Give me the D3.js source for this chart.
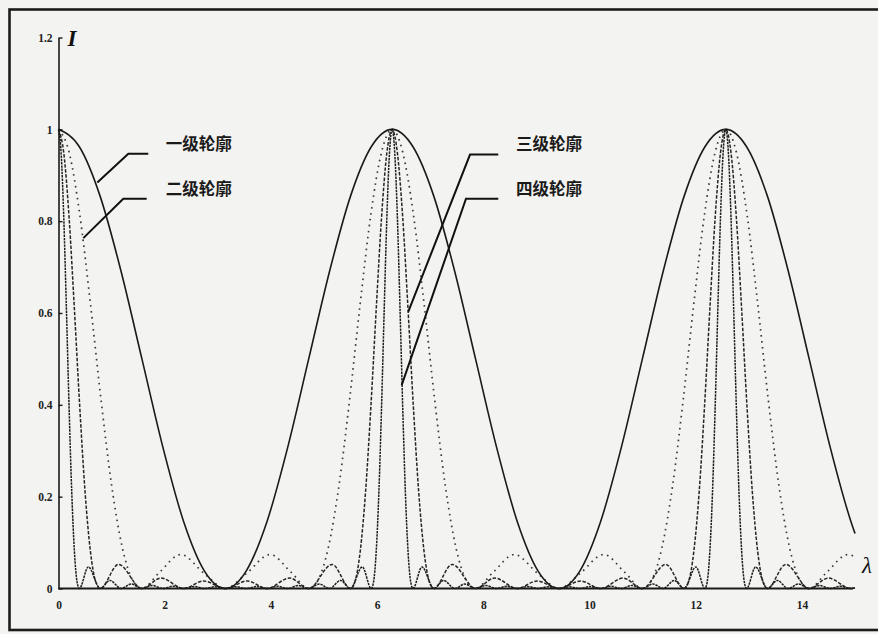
<!DOCTYPE html>
<html>
<head>
<meta charset="utf-8">
<script src="https://cdn.jsdelivr.net/npm/d3@7"></script>
<style>
  html, body { margin: 0; padding: 0; background: #f3f3f1; }
  svg { display: block; }
</style>
</head>
<body>
<svg id="chart" width="878" height="634"></svg>
<script>
// ---- axis ticks ----
const xTickValues = [0, 2, 4, 6, 8, 10, 12, 14];
const yTickValues = [0, 0.2, 0.4, 0.6, 0.8, 1, 1.2];
const yTickLabels = ["0", "0.2", "0.4", "0.6", "0.8", "1", "1.2"];

// ---- profile names ----
const profileNames = ["一级轮廓", "二级轮廓", "三级轮廓", "四级轮廓"];

// ---- intensity profiles, [λ, I] ----
// first-order profile (widest, solid)
const order1 = [
  [0,1],[0.393,0.962],[0.785,0.854],[1.178,0.691],[1.571,0.5],[1.963,0.309],[2.356,0.146],[2.749,0.038],
  [3.142,0],[3.534,0.038],[3.927,0.146],[4.320,0.309],[4.712,0.5],[5.105,0.691],[5.498,0.854],[5.890,0.962],
  [6.283,1],[6.676,0.962],[7.069,0.854],[7.461,0.691],[7.854,0.5],[8.247,0.309],[8.639,0.146],[9.032,0.038],
  [9.425,0],[9.817,0.038],[10.210,0.146],[10.603,0.309],[10.996,0.5],[11.388,0.691],[11.781,0.854],[12.174,0.962],
  [12.566,1],[12.959,0.962],[13.352,0.854],[13.744,0.691],[14.137,0.5],[14.530,0.309],[14.923,0.146],[15,0.12]
];

// second-order profile (sparse dots)
const order2 = [
  [0,1],[0.2,0.950],[0.4,0.815],[0.6,0.622],[0.8,0.412],[1.0,0.225],[1.2,0.090],[1.4,0.017],[1.571,0],
  [1.9,0.035],[2.3,0.074],[2.75,0.032],[3.142,0],[3.533,0.032],[3.983,0.074],[4.383,0.035],[4.712,0],
  [4.883,0.017],[5.083,0.090],[5.283,0.225],[5.483,0.412],[5.683,0.622],[5.883,0.815],[6.083,0.950],[6.283,1],
  [6.483,0.950],[6.683,0.815],[6.883,0.622],[7.083,0.412],[7.283,0.225],[7.483,0.090],[7.683,0.017],[7.854,0],
  [8.183,0.035],[8.583,0.074],[9.033,0.032],[9.425,0],[9.816,0.032],[10.266,0.074],[10.666,0.035],[10.996,0],
  [11.166,0.017],[11.366,0.090],[11.566,0.225],[11.766,0.412],[11.966,0.622],[12.166,0.815],[12.366,0.950],[12.566,1],
  [12.766,0.950],[12.966,0.815],[13.166,0.622],[13.366,0.412],[13.566,0.225],[13.766,0.090],[13.966,0.017],[14.137,0],
  [14.466,0.035],[14.866,0.074],[15,0.069]
];

// third-order profile (dashed)
const order3 = [
  [0,1],[0.1,0.948],[0.2,0.807],[0.3,0.607],[0.4,0.396],[0.5,0.211],[0.6,0.082],[0.7,0.015],[0.785,0],
  [1.13,0.0525],[1.571,0],[1.93,0.0227],[2.356,0],[2.73,0.0163],[3.142,0],[3.553,0.0163],[3.927,0],
  [4.353,0.0227],[4.712,0],[5.153,0.0525],[5.498,0],
  [5.583,0.015],[5.683,0.082],[5.783,0.211],[5.883,0.396],[5.983,0.607],[6.083,0.807],[6.183,0.948],[6.283,1],
  [6.383,0.948],[6.483,0.807],[6.583,0.607],[6.683,0.396],[6.783,0.211],[6.883,0.082],[6.983,0.015],[7.069,0],
  [7.413,0.0525],[7.854,0],[8.213,0.0227],[8.639,0],[9.013,0.0163],[9.425,0],[9.836,0.0163],[10.210,0],
  [10.636,0.0227],[10.996,0],[11.436,0.0525],[11.781,0],
  [11.866,0.015],[11.966,0.082],[12.066,0.211],[12.166,0.396],[12.266,0.607],[12.366,0.807],[12.466,0.948],[12.566,1],
  [12.666,0.948],[12.766,0.807],[12.866,0.607],[12.966,0.396],[13.066,0.211],[13.166,0.082],[13.266,0.015],[13.352,0],
  [13.696,0.0525],[14.137,0],[14.496,0.0227],[14.922,0],[15,0.0017]
];

// fourth-order profile (narrowest, dense dashes)
const order4 = [
  [0,1],[0.05,0.948],[0.1,0.805],[0.15,0.604],[0.2,0.392],[0.25,0.208],[0.3,0.080],[0.35,0.014],[0.393,0],
  [0.562,0.047],[0.785,0],[0.97,0.0175],[1.178,0],[1.37,0.0097],[1.571,0],[1.767,0.0065],[1.963,0],
  [2.16,0.005],[2.356,0],[2.553,0.0043],[2.749,0],[2.945,0.0039],[3.142,0],[3.338,0.0039],[3.534,0],
  [3.731,0.0043],[3.927,0],[4.123,0.005],[4.320,0],[4.516,0.0065],[4.712,0],[4.913,0.0097],[5.105,0],
  [5.313,0.0175],[5.498,0],[5.721,0.047],[5.890,0],
  [5.933,0.014],[5.983,0.080],[6.033,0.208],[6.083,0.392],[6.133,0.604],[6.183,0.805],[6.233,0.948],[6.283,1],
  [6.333,0.948],[6.383,0.805],[6.433,0.604],[6.483,0.392],[6.533,0.208],[6.583,0.080],[6.633,0.014],[6.676,0],
  [6.845,0.047],[7.069,0],[7.253,0.0175],[7.461,0],[7.653,0.0097],[7.854,0],[8.050,0.0065],[8.247,0],
  [8.443,0.005],[8.639,0],[8.836,0.0043],[9.032,0],[9.228,0.0039],[9.425,0],[9.621,0.0039],[9.817,0],
  [10.014,0.0043],[10.210,0],[10.406,0.005],[10.603,0],[10.799,0.0065],[10.996,0],[11.196,0.0097],[11.388,0],
  [11.596,0.0175],[11.781,0],[12.004,0.047],[12.174,0],
  [12.216,0.014],[12.266,0.080],[12.316,0.208],[12.366,0.392],[12.416,0.604],[12.466,0.805],[12.516,0.948],[12.566,1],
  [12.616,0.948],[12.666,0.805],[12.716,0.604],[12.766,0.392],[12.816,0.208],[12.866,0.080],[12.916,0.014],[12.959,0],
  [13.128,0.047],[13.351,0],[13.536,0.0175],[13.744,0],[13.936,0.0097],[14.137,0],[14.333,0.0065],[14.529,0],
  [14.726,0.005],[14.922,0],[15,0.0015]
];

// leader-line anchors for the profile labels, in [λ, I] units
const leaderTips   = [[0.731, 0.884], [0.467, 0.763], [6.588, 0.603], [6.463, 0.443]];
const leaderElbows = [[1.315, 0.947], [1.220, 0.849], [7.750, 0.945], [7.674, 0.849]];
const leaderEnds   = [[1.691, 0.947], [1.661, 0.849], [8.282, 0.945], [8.282, 0.849]];
const labelAnchors = [[2.019, 0.955], [2.019, 0.857], [8.616, 0.955], [8.616, 0.857]];

// ---- drawing ----
const svg = d3.select("#chart");

const x = d3.scaleLinear().domain([0, 15]).range([58.5, 855]);
const y = d3.scaleLinear().domain([0, 1.2]).range([588.5, 37.5]);

// outer frame
svg.append("rect")
  .attr("x", 9.5).attr("y", 9.5)
  .attr("width", 900).attr("height", 620.5)
  .attr("fill", "none")
  .attr("stroke", "#1c1c1c")
  .attr("stroke-width", 2.6);

const line = d3.line()
  .x(d => x(d[0]))
  .y(d => y(d[1]))
  .curve(d3.curveMonotoneX);

const profiles = [
  { data: order2, stroke: "#3a3a3a", width: 1.7, dash: "1.6,4.4" },
  { data: order3, stroke: "#262626", width: 1.5, dash: "3.5,1.6" },
  { data: order4, stroke: "#1e1e1e", width: 1.5, dash: "2.4,0.9" },
  { data: order1, stroke: "#1a1a1a", width: 1.6, dash: null }
];

svg.append("g").selectAll("path")
  .data(profiles)
  .join("path")
  .attr("d", p => line(p.data))
  .attr("fill", "none")
  .attr("stroke", p => p.stroke)
  .attr("stroke-width", p => p.width)
  .attr("stroke-dasharray", p => p.dash)
  .attr("stroke-linejoin", "round");

// x axis: baseline with labels, no visible tick marks
const xAxis = d3.axisBottom(x)
  .tickValues(xTickValues)
  .tickFormat(d3.format("d"))
  .tickSize(0)
  .tickPadding(12);

const gx = svg.append("g")
  .attr("transform", `translate(0,${y(0)})`)
  .call(xAxis);
gx.select(".domain")
  .attr("d", `M${x(0)},0H${x(14.96)}`)
  .attr("stroke", "#1a1a1a")
  .attr("stroke-width", 1.8);
gx.selectAll("text")
  .attr("font-family", "'Liberation Serif', serif")
  .attr("font-weight", "bold")
  .attr("font-size", 11.5)
  .attr("fill", "#222");

// y axis: ticks point inward
const yAxis = d3.axisLeft(y)
  .tickValues(yTickValues)
  .tickFormat((d, i) => yTickLabels[i])
  .tickSizeInner(-4)
  .tickSizeOuter(0)
  .tickPadding(6);

const gy = svg.append("g")
  .attr("transform", `translate(${x(0)},0)`)
  .call(yAxis);
gy.select(".domain").attr("stroke", "#1a1a1a").attr("stroke-width", 1.6);
gy.selectAll(".tick line").attr("stroke", "#1a1a1a").attr("stroke-width", 1.4);
gy.selectAll("text")
  .attr("font-family", "'Liberation Serif', serif")
  .attr("font-weight", "bold")
  .attr("font-size", 11.5)
  .attr("fill", "#222");

// axis titles
svg.append("text")
  .attr("x", x(0) + 9).attr("y", y(1.2) + 8)
  .attr("font-family", "'Liberation Serif', serif")
  .attr("font-style", "italic")
  .attr("font-weight", "bold")
  .attr("font-size", 23)
  .attr("fill", "#111")
  .text("I");

svg.append("text")
  .attr("x", x(15) + 7).attr("y", y(0) - 16)
  .attr("font-family", "'Liberation Serif', serif")
  .attr("font-style", "italic")
  .attr("font-size", 23)
  .attr("fill", "#111")
  .text("λ");

// profile labels with leader lines
const leaderLine = d3.line().x(d => x(d[0])).y(d => y(d[1]));
const annotations = profileNames.map((name, i) => ({
  name,
  path: [leaderTips[i], leaderElbows[i], leaderEnds[i]],
  anchor: labelAnchors[i]
}));

const ann = svg.append("g").selectAll("g")
  .data(annotations)
  .join("g");

ann.append("path")
  .attr("d", a => leaderLine(a.path))
  .attr("fill", "none")
  .attr("stroke", "#111")
  .attr("stroke-width", 2);

ann.append("text")
  .attr("x", a => x(a.anchor[0]))
  .attr("y", a => y(a.anchor[1]))
  .attr("font-family", "'Noto Sans CJK SC', sans-serif")
  .attr("font-weight", "bold")
  .attr("font-size", 16.5)
  .attr("fill", "#1a1a1a")
  .text(a => a.name);
</script>
</body>
</html>
